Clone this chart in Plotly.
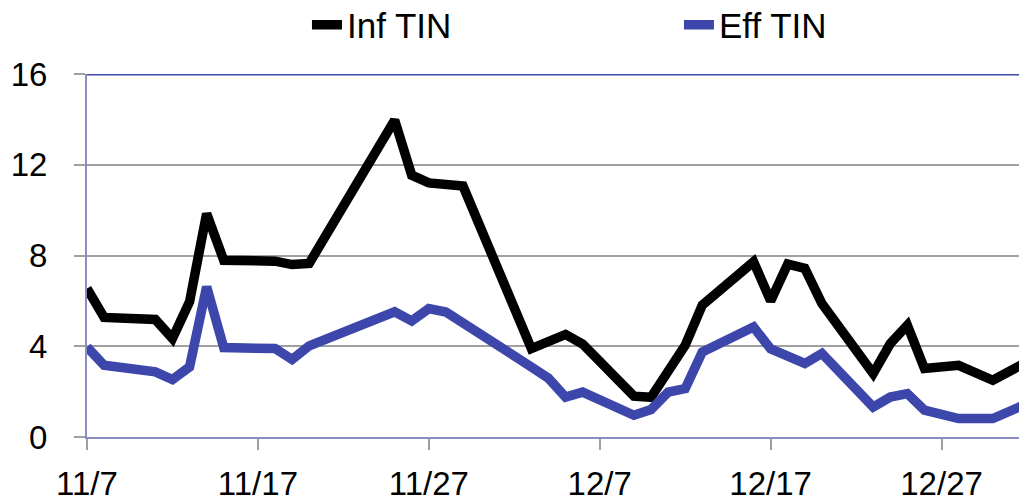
import datetime as dt
import plotly.graph_objects as go

START = dt.date(2011, 11, 7)

# Inf TIN: day offsets from 11/7 and values
inf_days = [0, 1, 4, 5, 6, 7, 8, 11, 12, 13, 18, 19, 20, 22, 26, 28, 29, 32, 33, 35,
            36, 39, 40, 41, 42, 43, 46, 47, 48, 49, 51, 53, 55]
inf_vals = [6.55, 5.27, 5.18, 4.34, 5.96, 9.85, 7.79, 7.75, 7.6, 7.65, 13.97, 11.54, 11.2,
            11.06, 3.9, 4.52, 4.1, 1.8, 1.75, 4.04, 5.81, 7.72, 6.0, 7.62, 7.43, 5.88, 2.8,
            4.12, 4.93, 3.02, 3.16, 2.5, 3.31]

# Eff TIN
eff_days = [0, 1, 4, 5, 6, 7, 8, 11, 12, 13, 18, 19, 20, 21, 26, 27, 28, 29, 32, 33, 34,
            35, 36, 39, 40, 42, 43, 46, 47, 48, 49, 51, 53, 55]
eff_vals = [3.97, 3.16, 2.87, 2.53, 3.09, 6.62, 3.94, 3.9, 3.42, 4.02, 5.52, 5.12, 5.66,
            5.51, 3.09, 2.59, 1.76, 1.98, 0.96, 1.21, 1.98, 2.13, 3.75, 4.85, 3.88, 3.24,
            3.68, 1.32, 1.76, 1.91, 1.18, 0.81, 0.81, 1.47]

tick_days = [0, 10, 20, 30, 40, 50]
tick_labels = ["11/7", "11/17", "11/27", "12/7", "12/17", "12/27"]
y_ticks = [0, 4, 8, 12, 16]


def to_date(d):
    return (START + dt.timedelta(days=d)).isoformat()


FONT = "Liberation Sans, Arial, sans-serif"

fig = go.Figure()
fig.add_trace(go.Scatter(
    x=[to_date(d) for d in inf_days], y=inf_vals, mode="lines", name="Inf TIN",
    line=dict(color="#000000", width=9.5), cliponaxis=True))
fig.add_trace(go.Scatter(
    x=[to_date(d) for d in eff_days], y=eff_vals, mode="lines", name="Eff TIN",
    line=dict(color="#3D46AA", width=9.5), cliponaxis=True))

# the page body adds an 8px offset, so the figure is sized to fill the rest
fig.update_layout(
    width=1019, height=493,
    margin=dict(l=79, r=0, t=66, b=64, autoexpand=False),
    paper_bgcolor="white", plot_bgcolor="white",
    font=dict(family=FONT, color="black", size=33),
    showlegend=True,
    legend=dict(orientation="h", x=0.234, xanchor="left", y=1.135, yanchor="middle",
                yref="paper", font=dict(size=35, family=FONT),
                entrywidth=327, entrywidthmode="pixels", itemwidth=30,
                bgcolor="rgba(0,0,0,0)", borderwidth=0),
    xaxis=dict(type="date", range=[to_date(0), to_date(55)],
               tickvals=[to_date(d) for d in tick_days], ticktext=tick_labels,
               ticks="outside", ticklen=11, tickwidth=2, tickcolor="#A0A0A0",
               showgrid=False, zeroline=False,
               showline=True, linecolor="#8C8CC4", linewidth=2,
               tickfont=dict(size=33, family=FONT), ticklabelstandoff=5),
    yaxis=dict(range=[0, 16], tickvals=y_ticks,
               ticks="outside", ticklen=11, tickwidth=2, tickcolor="#A0A0A0",
               showgrid=True, gridcolor="#A0A0A0", gridwidth=2, zeroline=False,
               showline=True, linecolor="#8C8CC4", linewidth=2,
               tickfont=dict(size=33, family=FONT), ticklabelstandoff=20),
    shapes=[dict(type="line", xref="paper", yref="y", x0=0, x1=1, y0=16, y1=16,
                 line=dict(color="#4048A8", width=3), layer="above")],
)

fig.write_html("out.html")
